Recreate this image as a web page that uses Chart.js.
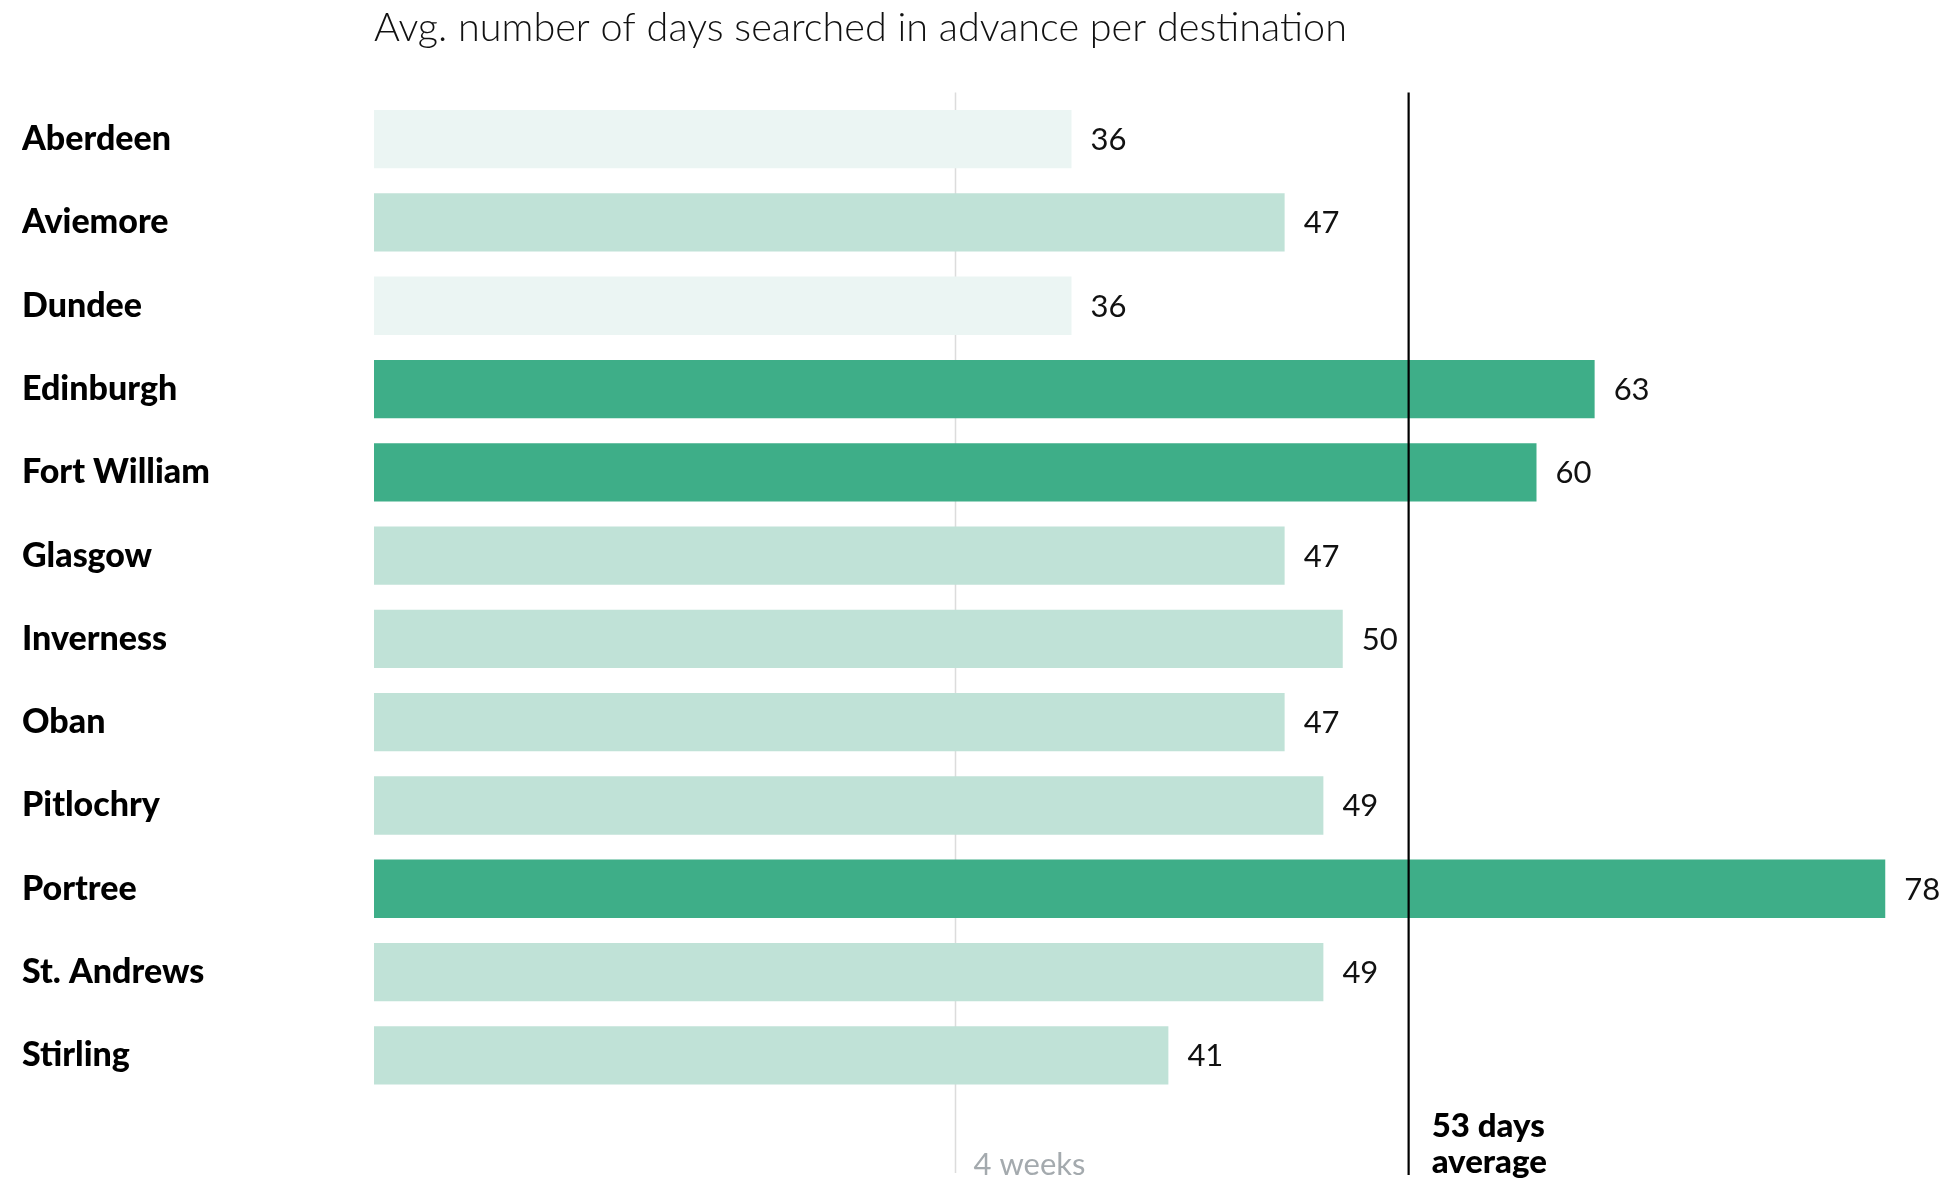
<!DOCTYPE html>
<html>
<head>
<meta charset="utf-8">
<script src="https://cdn.jsdelivr.net/npm/chart.js@4.4.1/dist/chart.umd.min.js"></script>
<style>
  html, body { margin: 0; padding: 0; background: #fff; }
  #wrap { width: 1946px; height: 1182px; position: relative; }
</style>
</head>
<body>
<div id="wrap"><canvas id="chart"></canvas></div>
<script>
// destinations and avg days searched in advance
const destinations = ['Aberdeen', 'Aviemore', 'Dundee', 'Edinburgh', 'Fort William', 'Glasgow',
    'Inverness', 'Oban', 'Pitlochry', 'Portree', 'St. Andrews', 'Stirling'];
const daysInAdvance = [36, 47, 36, 63, 60, 47, 50, 47, 49, 78, 49, 41];

// reference lines
const weeksMarkValue = 30;       // "4 weeks" guide
const weeksMarkLabel = ['4 weeks'];
const averageValue = 53.4;       // overall average
const averageLabel = ['53 days', 'average'];

const titleText = 'Avg. number of days searched in advance per destination';

// shade by how far ahead people search
function barColor(v) {
    if (v < 40) return '#ebf5f3';
    if (v < 55) return '#c0e2d7';
    return '#3eae88';
}

// value labels + the two vertical marker lines
const overlayPlugin = {
    id: 'overlay',
    beforeDatasetsDraw(chart) {
        const { ctx, chartArea, scales } = chart;
        const x = Math.round(scales.x.getPixelForValue(weeksMarkValue)) + 0.5;
        ctx.save();
        ctx.strokeStyle = '#dcdcdc';
        ctx.lineWidth = 1.5;
        ctx.beginPath();
        ctx.moveTo(x, chartArea.top - 5);
        ctx.lineTo(x, chart.height - 9);
        ctx.stroke();
        ctx.fillStyle = '#a4aaae';
        ctx.font = '400 31px Lato';
        ctx.textBaseline = 'alphabetic';
        weeksMarkLabel.forEach((t, i) => ctx.fillText(t, x + 18, chart.height - 7 + i * 36));
        ctx.restore();
    },
    afterDatasetsDraw(chart) {
        const { ctx, chartArea, scales } = chart;
        const meta = chart.getDatasetMeta(0);
        ctx.save();
        ctx.fillStyle = '#111';
        ctx.font = '400 31px Lato';
        ctx.textBaseline = 'middle';
        ctx.textAlign = 'left';
        meta.data.forEach((bar, i) => {
            ctx.fillText(String(daysInAdvance[i]), bar.x + 19, bar.y + 1);
        });

        const ax = scales.x.getPixelForValue(averageValue);
        ctx.strokeStyle = '#000';
        ctx.lineWidth = 2.2;
        ctx.beginPath();
        ctx.moveTo(ax, chartArea.top - 5);
        ctx.lineTo(ax, chart.height - 7);
        ctx.stroke();
        ctx.fillStyle = '#000';
        ctx.font = '900 33px Lato';
        ctx.textBaseline = 'alphabetic';
        averageLabel.forEach((t, i) => ctx.fillText(t, ax + 23, chart.height - 45 + i * 36));
        ctx.restore();
    }
};

const chart = new Chart(document.getElementById('chart'), {
    type: 'bar',
    data: {
        labels: destinations,
        datasets: [{
            data: daysInAdvance,
            backgroundColor: daysInAdvance.map(barColor),
            borderWidth: 0,
            barPercentage: 0.7,
            categoryPercentage: 1.0
        }]
    },
    options: {
        indexAxis: 'y',
        responsive: true,
        maintainAspectRatio: false,
        animation: false,
        layout: { padding: { left: 22, right: 22, top: 0, bottom: 85 } },
        plugins: {
            legend: { display: false },
            tooltip: { enabled: false },
            title: {
                display: true,
                text: titleText,
                align: 'start',
                fullSize: false,
                color: '#111',
                font: { family: 'Lato', size: 39.6, weight: '300' },
                padding: { top: 4, bottom: 46 }
            }
        },
        scales: {
            x: {
                min: 0,
                max: 80,
                display: false
            },
            y: {
                grid: { display: false, drawTicks: false },
                border: { display: false },
                ticks: {
                    crossAlign: 'far',
                    color: '#000',
                    padding: 0,
                    font: { family: 'Lato', size: 34, weight: '900' }
                },
                afterFit(scale) { scale.width = 352; }
            }
        }
    },
    plugins: [overlayPlugin]
});
</script>
</body>
</html>
